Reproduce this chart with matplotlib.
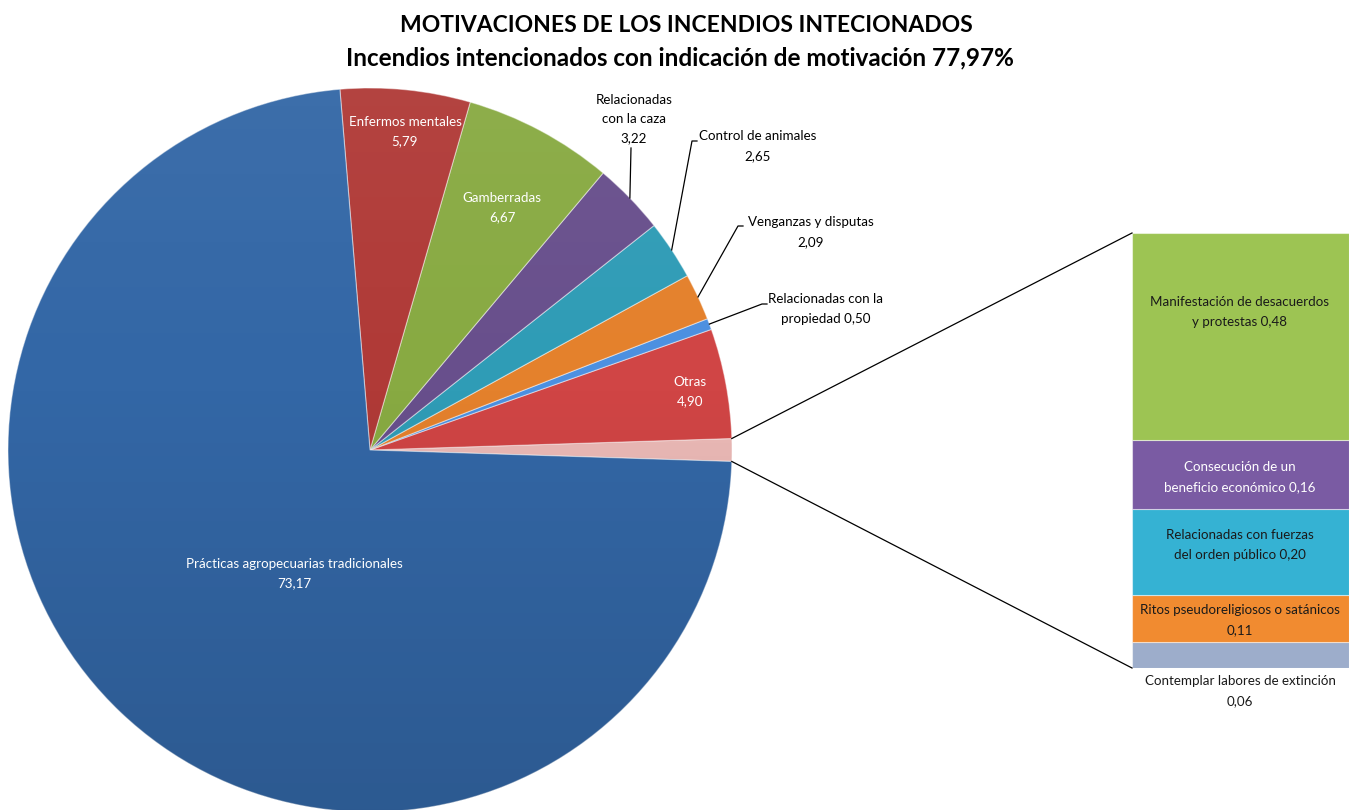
import numpy as np
import matplotlib
matplotlib.use("Agg")
import matplotlib.pyplot as plt
from matplotlib.patches import Circle

plt.rcParams['font.family'] = ['Lato', 'DejaVu Sans']

# ---- data ----
pie_labels = ["Prácticas agropecuarias tradicionales", "Enfermos mentales", "Gamberradas",
              "Relacionadas\ncon la caza", "Control de animales", "Venganzas y disputas",
              "Relacionadas con la\npropiedad", "Otras"]
pie_values = [73.17, 5.79, 6.67, 3.22, 2.65, 2.09, 0.50, 4.90]
pie_colors = ["#3367A6", "#B03A37", "#88AA42", "#684F8C", "#2F9CB6", "#E4812C", "#4C90E0", "#D04545"]

bar_labels = ["Manifestación de desacuerdos\ny protestas", "Consecución de un\nbeneficio económico",
              "Relacionadas con fuerzas\ndel orden público", "Ritos pseudoreligiosos o satánicos\n",
              "Contemplar labores de extinción\n"]
bar_values = [0.48, 0.16, 0.20, 0.11, 0.06]
bar_colors = ["#9DC453", "#7A5BA3", "#35B2D3", "#F18B30", "#9DADCB"]
other_color = "#EBB9B6"

title1 = "MOTIVACIONES DE LOS INCENDIOS INTECIONADOS"
title2 = "Incendios intencionados con indicación de motivación 77,97%"

def fmt(v):
    return f"{v:.2f}".replace(".", ",")

W, H = 1349, 810
fig = plt.figure(figsize=(W / 100, H / 100), dpi=100)
ax = fig.add_axes([0, 0, 1, 1])
ax.set_zorder(3)
ax.patch.set_visible(False)

def Y(y):
    return H - y

cx, cy, R = 370, Y(450), 362
other_total = sum(bar_values)

# counterclockwise order starting with the "other" slice centered at 0 deg
order = [None, 7, 6, 5, 4, 3, 2, 1, 0]
vals = [other_total] + [pie_values[i] for i in order[1:]]
cols = [other_color] + [pie_colors[i] for i in order[1:]]
total = sum(vals)
start = -other_total / total * 360 / 2

wedges, _ = ax.pie(vals, colors=cols, startangle=start, counterclock=True,
                   center=(cx, cy), radius=R,
                   wedgeprops=dict(edgecolor=(1, 1, 1, 0.45), linewidth=0.8))

# subtle vertical shading over the pie (lighter top, darker bottom)
n = 256
t = np.linspace(0, 1, n)
grad = np.zeros((n, 2, 4))
light = t < 0.4
grad[light, :, :3] = 1.0
grad[~light, :, :3] = 0.0
grad[:, :, 3] = np.where(light, 0.05 * (1 - t / 0.4), 0.13 * (t - 0.4) / 0.6)[:, None]
im = ax.imshow(grad, extent=(cx - R, cx + R, cy - R, cy + R), origin='upper', zorder=3,
               interpolation='bilinear')
clip = Circle((cx, cy), R, transform=ax.transData)
im.set_clip_path(clip)

ax.set_xlim(0, W)
ax.set_ylim(0, H)
ax.set_aspect('equal')
ax.axis('off')

def edge_point(w, frac=0.5, r=R):
    a = np.deg2rad(w.theta1 + (w.theta2 - w.theta1) * frac)
    return cx + r * np.cos(a), cy + r * np.sin(a)

wmap = {order[k]: wedges[k] for k in range(1, len(order))}
fs = 9.6
ls = 1.75

# inside labels (white)
inside = {0: (294, 564), 1: (405, 122), 2: (502, 198), 7: (690, 382)}
for i, (x, y) in inside.items():
    ax.text(x, Y(y) - 9.5, f"{pie_labels[i]}\n{fmt(pie_values[i])}", ha='center', va='center',
            color='white', fontsize=fs, linespacing=ls, zorder=5)

# outside labels with leader lines
outside = {
    3: dict(text=(634, 119), elbow=(631, 148), tick=(631, 148)),
    4: dict(text=(758, 146), elbow=(692, 141), tick=(697, 141)),
    5: dict(text=(811, 232), elbow=(738, 226), tick=(743, 226)),
    6: dict(text=(826, 309), elbow=(762, 304), tick=(767, 304)),
}
for i, d in outside.items():
    if i == 6:
        s = f"{pie_labels[i]} {fmt(pie_values[i])}"
    else:
        s = f"{pie_labels[i]}\n{fmt(pie_values[i])}"
    ax.text(d['text'][0], Y(d['text'][1]), s, ha='center', va='center', color='black',
            fontsize=fs, linespacing=ls, zorder=5)
    px, py = edge_point(wmap[i])
    ex, ey = d['elbow']
    tx, ty = d['tick']
    ax.plot([px, ex, tx], [py, Y(ey), Y(ty)], color='black', lw=0.9, zorder=5)

# ---- bar of pie ----
bx0, by0, bw, bh = 1132, 668, 217, 435
bax = fig.add_axes([bx0 / W, (H - by0) / H, bw / W, bh / H])
bax.set_zorder(1)
bottom = 0.0
for v, c in reversed(list(zip(bar_values, bar_colors))):
    bax.bar(0, v, bottom=bottom, width=1.0, color=c, edgecolor=(1, 1, 1, 0.5), linewidth=0.8)
    bottom += v
bax.set_xlim(-0.5, 0.5)
bax.set_ylim(0, other_total)
bax.axis('off')

# bar labels (pixel positions)
bar_text_colors = ["#1a1a1a", "white", "#1a1a1a", "#1a1a1a", "#1a1a1a"]
bar_pos = [(1240, 312), (1240, 477), (1240, 545), (1240, 620), (1240, 691)]
for lab, v, tc, (x, y) in zip(bar_labels, bar_values, bar_text_colors, bar_pos):
    txt = lab.rstrip("\n")
    if lab.endswith("\n"):
        s = f"{txt}\n{fmt(v)}"
    else:
        s = f"{txt} {fmt(v)}"
    ax.text(x, Y(y), s, ha='center', va='center', color=tc,
            fontsize=fs, linespacing=ls, zorder=6)

# connector lines from "other" slice to the bar
ow = wedges[0]
p_top = edge_point(ow, 1.0)
p_bot = edge_point(ow, 0.0)
ax.plot([p_top[0], bx0], [p_top[1], Y(by0 - bh)], color='black', lw=0.9, zorder=5)
ax.plot([p_bot[0], bx0], [p_bot[1], Y(by0)], color='black', lw=0.9, zorder=5)

# titles
ax.text(686, Y(25), title1, ha='center', va='center', fontsize=16.5, fontweight='bold')
ax.text(680, Y(58), title2, ha='center', va='center', fontsize=17.5, fontweight='bold')

fig.savefig("out.png", dpi=100)
